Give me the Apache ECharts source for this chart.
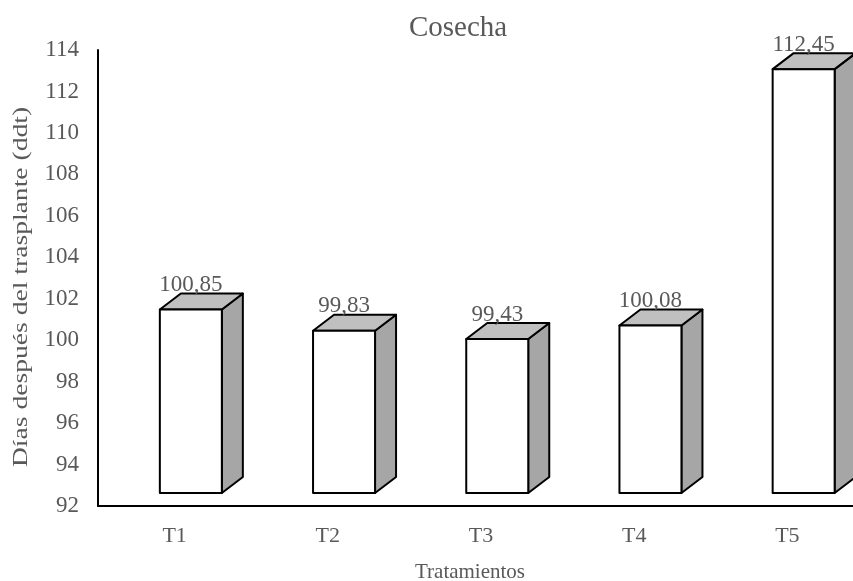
<!DOCTYPE html>
<html>
<head>
<meta charset="utf-8">
<script src="https://cdn.jsdelivr.net/npm/echarts@6/dist/echarts.min.js"></script>
<style>
  html, body { margin: 0; padding: 0; background: #fff; overflow: hidden; }
  /* the plot area runs past the right edge of the window, so the canvas is a bit wider */
  #chart { width: 864px; height: 581px; }
</style>
</head>
<body>
<div id="chart"></div>
<script>
// Días a cosecha por tratamiento
const categories = ['T1', 'T2', 'T3', 'T4', 'T5'];
const values = [100.85, 99.83, 99.43, 100.08, 112.45];
const yMin = 92, yMax = 114, yStep = 2;

const FONT = '"Liberation Serif", "Times New Roman", serif';
const TXT = '#595959';

// Geometry of the pseudo-3D column (pixels)
const FRONT_W = 62, DEPTH_X = 21, DEPTH_Y = 16, LIFT = 13, FRONT_SHIFT = -14.75;

function fmt(v) { return v.toFixed(2).replace('.', ','); }

function renderBar(params, api) {
  const idx = api.value(0);
  const val = api.value(1);
  const top = api.coord([idx, val]);
  const base = api.coord([idx, yMin]);
  const x0 = top[0] + FRONT_SHIFT;
  const x1 = x0 + FRONT_W;
  const yT = top[1] - LIFT;
  const yB = base[1] - LIFT;
  const line = { stroke: '#000', lineWidth: 2, lineJoin: 'round' };
  return {
    type: 'group',
    children: [
      { type: 'polygon', shape: { points: [[x1, yT], [x1 + DEPTH_X, yT - DEPTH_Y], [x1 + DEPTH_X, yB - DEPTH_Y], [x1, yB]] },
        style: Object.assign({ fill: '#a6a6a6' }, line) },
      { type: 'polygon', shape: { points: [[x0, yT], [x1, yT], [x1 + DEPTH_X, yT - DEPTH_Y], [x0 + DEPTH_X, yT - DEPTH_Y]] },
        style: Object.assign({ fill: '#c0c0c0' }, line) },
      { type: 'rect', shape: { x: x0, y: yT, width: FRONT_W, height: yB - yT },
        style: Object.assign({ fill: '#ffffff' }, line) },
      { type: 'text', x: x0 + FRONT_W / 2, y: yT - DEPTH_Y + 3,
        style: { text: fmt(val), font: '23px ' + FONT, fill: TXT, align: 'center', verticalAlign: 'bottom' } }
    ]
  };
}

const chart = echarts.init(document.getElementById('chart'));
chart.setOption({
  animation: false,
  backgroundColor: '#fff',
  grid: { left: 98, top: 50, right: 0, bottom: 75, containLabel: false },
  xAxis: {
    type: 'category',
    data: categories,
    axisLine: { lineStyle: { color: '#000', width: 2 } },
    axisTick: { show: false },
    axisLabel: { color: TXT, fontFamily: FONT, fontSize: 22, margin: 19 }
  },
  yAxis: {
    type: 'value',
    min: yMin, max: yMax, interval: yStep,
    axisLine: { show: true, lineStyle: { color: '#000', width: 2 } },
    axisTick: { show: false },
    splitLine: { show: false },
    axisLabel: { color: TXT, fontFamily: FONT, fontSize: 23, margin: 19 }
  },
  graphic: [
    { type: 'text', x: 458, y: 28,
      style: { text: 'Cosecha', font: '29px ' + FONT, fill: TXT, align: 'center', verticalAlign: 'middle' } },
    { type: 'text', x: 470, y: 572,
      style: { text: 'Tratamientos', font: '21px ' + FONT, fill: TXT, align: 'center', verticalAlign: 'middle' } },
    { type: 'text', x: 22, y: 287, rotation: Math.PI / 2, scaleX: 1.38,
      style: { text: 'Días después del trasplante (ddt)', font: '20px ' + FONT, fill: TXT, align: 'center', verticalAlign: 'middle' } }
  ],
  series: [{
    type: 'custom',
    renderItem: renderBar,
    encode: { x: 0, y: 1 },
    data: values.map((v, i) => [i, v]),
    clip: false
  }]
});
</script>
</body>
</html>
